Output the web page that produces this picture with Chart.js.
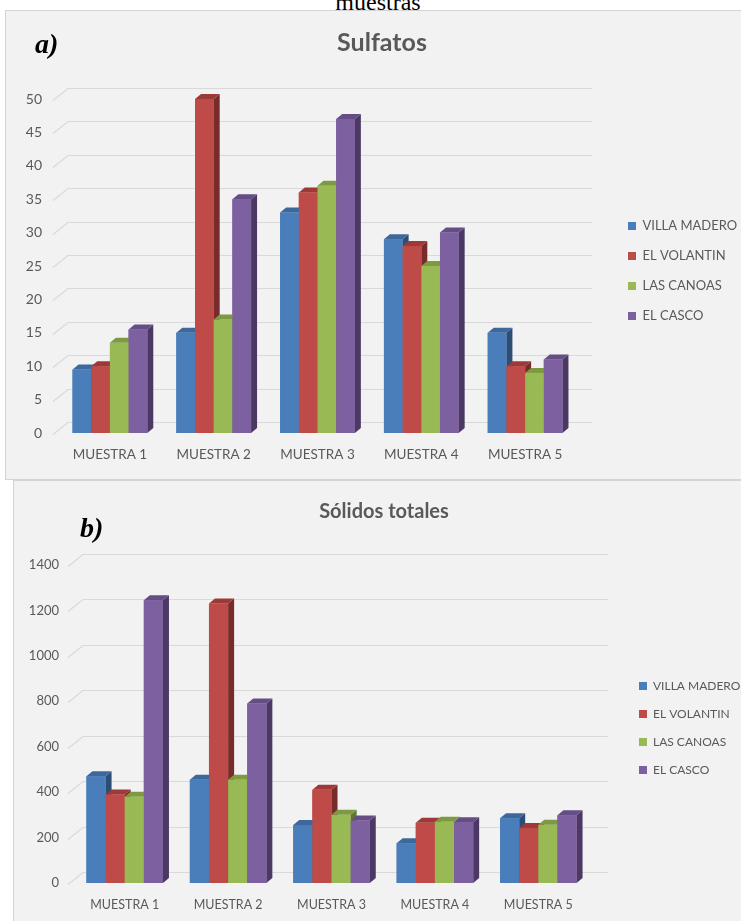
<!DOCTYPE html>
<html>
<head>
<meta charset="utf-8">
<script src="https://cdn.jsdelivr.net/npm/chart.js@4.4.1/dist/chart.umd.min.js"></script>
<style>
  body { margin: 0; width: 741px; height: 921px; overflow: hidden; background: #fff; position: relative; font-family: Lato, sans-serif; }
  .cap { position: absolute; top: -11px; left: 0; width: 756px; text-align: center; font: 24px "Liberation Serif", serif; color: #000; }
  .panel { position: absolute; background: #f2f2f2; border: 1px solid #d4d4d4; }
  #pa { left: 5px; top: 10px; width: 745px; height: 468px; }
  #pb { left: 13px; top: 480px; width: 740px; height: 450px; }
  .wrap { position: absolute; }
  #wa { left: 6px; top: 10px; width: 735px; height: 469px; }
  #wb { left: 13px; top: 480px; width: 728px; height: 441px; }
  .tag { position: absolute; font: bold italic 28px "Liberation Serif", serif; color: #000; }
</style>
</head>
<body>
<div class="cap">muestras</div>
<div class="panel" id="pa"></div>
<div class="panel" id="pb"></div>
<div class="wrap" id="wa"><canvas id="chartA"></canvas></div>
<div class="wrap" id="wb"><canvas id="chartB"></canvas></div>
<div class="tag" style="left:35px;top:28px">a)</div>
<div class="tag" style="left:80px;top:512px">b)</div>
<script>
const categories = ["MUESTRA 1", "MUESTRA 2", "MUESTRA 3", "MUESTRA 4", "MUESTRA 5"];
const seriesNames = ["VILLA MADERO", "EL VOLANTIN", "LAS CANOAS", "EL CASCO"];

// Sulfatos
const sulfVillaMadero = [9.5, 15, 33, 29, 15];
const sulfElVolantin = [10, 50, 36, 28, 10];
const sulfLasCanoas = [13.5, 17, 37, 25, 9];
const sulfElCasco = [15.5, 35, 47, 30, 11];
const sulfTicks = [0, 5, 10, 15, 20, 25, 30, 35, 40, 45, 50];

// Sólidos totales
const solVillaMadero = [470, 455, 255, 175, 285];
const solElVolantin = [390, 1230, 410, 265, 242];
const solLasCanoas = [380, 455, 300, 270, 256];
const solElCasco = [1245, 790, 275, 268, 298];
const solTicks = [0, 200, 400, 600, 800, 1000, 1200, 1400];

const frontColors = ["#4a7ebb", "#be4b48", "#98b954", "#7d60a0"];
const topColors = ["#3c689c", "#9c3a37", "#7d9a42", "#654d86"];
const sideColors = ["#2c4d75", "#772c2a", "#5f7530", "#4b3964"];
const textColor = "#595959";

// fake 3D: back wall gridlines and bar side/top faces
const depth3d = {
  id: "depth3d",
  beforeDatasetsDraw(chart, args, opts) {
    const { ctx, chartArea: a, scales: { y } } = chart;
    ctx.save();
    ctx.strokeStyle = "#d9d9d9";
    ctx.lineWidth = 1.2;
    y.ticks.forEach(t => {
      const py = Math.round(y.getPixelForValue(t.value)) + 0.5;
      ctx.beginPath();
      ctx.moveTo(a.left - 5, py + 1);
      ctx.lineTo(a.left + 10, py - opts.wallY);
      ctx.lineTo(a.right + opts.wallX, py - opts.wallY);
      ctx.stroke();
    });
    ctx.restore();
  },
  afterDatasetsDraw(chart, args, opts) {
    const { ctx } = chart;
    const dx = opts.dx, dy = opts.dy;
    ctx.save();
    for (let i = 0; i < chart.data.labels.length; i++) {
      chart.data.datasets.forEach((ds, d) => {
        const el = chart.getDatasetMeta(d).data[i];
        const l = el.x - el.width / 2, r = el.x + el.width / 2, t = el.y, b = el.base;
        ctx.fillStyle = sideColors[d];
        ctx.beginPath();
        ctx.moveTo(r, t); ctx.lineTo(r + dx, t - dy); ctx.lineTo(r + dx, b - dy); ctx.lineTo(r, b);
        ctx.closePath(); ctx.fill();
        ctx.fillStyle = topColors[d];
        ctx.beginPath();
        ctx.moveTo(l, t); ctx.lineTo(l + dx, t - dy); ctx.lineTo(r + dx, t - dy); ctx.lineTo(r, t);
        ctx.closePath(); ctx.fill();
        ctx.fillStyle = frontColors[d];
        ctx.fillRect(l, t, r - l, b - t);
      });
    }
    ctx.restore();
  }
};

function makeChart(id, series, ticks, cfg) {
  return new Chart(document.getElementById(id), {
    type: "bar",
    data: {
      labels: categories,
      datasets: series.map((data, d) => ({
        label: seriesNames[d],
        data,
        backgroundColor: frontColors[d],
        borderWidth: 0,
        categoryPercentage: cfg.catPct,
        barPercentage: 1
      }))
    },
    plugins: [depth3d],
    options: {
      responsive: true,
      maintainAspectRatio: false,
      animation: false,
      layout: { padding: { left: cfg.padLeft, right: 0, top: 0, bottom: 0 } },
      scales: {
        x: {
          grid: { display: false },
          border: { display: false },
          ticks: { color: textColor, font: { family: "Lato", size: cfg.xFont }, padding: cfg.xPad, maxRotation: 0 },
          afterFit(s) { s.height = cfg.xHeight; }
        },
        y: {
          min: 0,
          max: ticks[ticks.length - 1],
          grid: { display: false, drawTicks: false },
          border: { display: false },
          ticks: {
            color: textColor,
            font: { family: "Lato", size: cfg.yFont },
            padding: cfg.yPad,
            callback: v => String(v)
          },
          afterBuildTicks(s) { s.ticks = ticks.map(v => ({ value: v })); },
          afterFit(s) { s.width = cfg.yWidth; }
        },
        gap: {
          type: "linear",
          position: "right",
          display: true,
          grid: { display: false, drawTicks: false },
          border: { display: false },
          ticks: { display: false },
          afterFit(s) { s.width = cfg.gapWidth; }
        }
      },
      plugins: {
        depth3d: { dx: 6, dy: 5, wallX: cfg.wallX, wallY: 11 },
        tooltip: { enabled: false },
        title: {
          display: true,
          text: cfg.title,
          color: textColor,
          font: { family: "Lato", size: cfg.titleSize, weight: "bold" },
          padding: { top: cfg.titleTop, bottom: cfg.titleBottom }
        },
        legend: {
          position: "right",
          fullSize: false,
          maxWidth: cfg.legendWidth,
          title: { display: true, text: " ", font: { size: 5 }, padding: { top: cfg.legendShift, bottom: 0 } },
          labels: {
            color: textColor,
            font: { family: "Lato", size: cfg.legendFont },
            boxWidth: 8,
            boxHeight: 8,
            padding: cfg.legendPad
          }
        }
      }
    }
  });
}

makeChart("chartA", [sulfVillaMadero, sulfElVolantin, sulfLasCanoas, sulfElCasco], sulfTicks, {
  title: "Sulfatos", titleSize: 25, titleTop: 18, titleBottom: 41,
  padLeft: 17, yWidth: 35, yPad: 16, yFont: 14,
  xHeight: 46, xPad: 6, xFont: 13.5,
  catPct: 0.72, wallX: 15, gapWidth: 34,
  legendWidth: 130, legendFont: 13, legendPad: 17, legendShift: 4
});

makeChart("chartB", [solVillaMadero, solElVolantin, solLasCanoas, solElCasco], solTicks, {
  title: "Sólidos totales", titleSize: 20, titleTop: 20, titleBottom: 41,
  padLeft: 14, yWidth: 46, yPad: 14, yFont: 13,
  xHeight: 38, xPad: 6, xFont: 12.5,
  catPct: 0.74, wallX: 18, gapWidth: 33,
  legendWidth: 118, legendFont: 12, legendPad: 16, legendShift: 2
});
</script>
</body>
</html>
